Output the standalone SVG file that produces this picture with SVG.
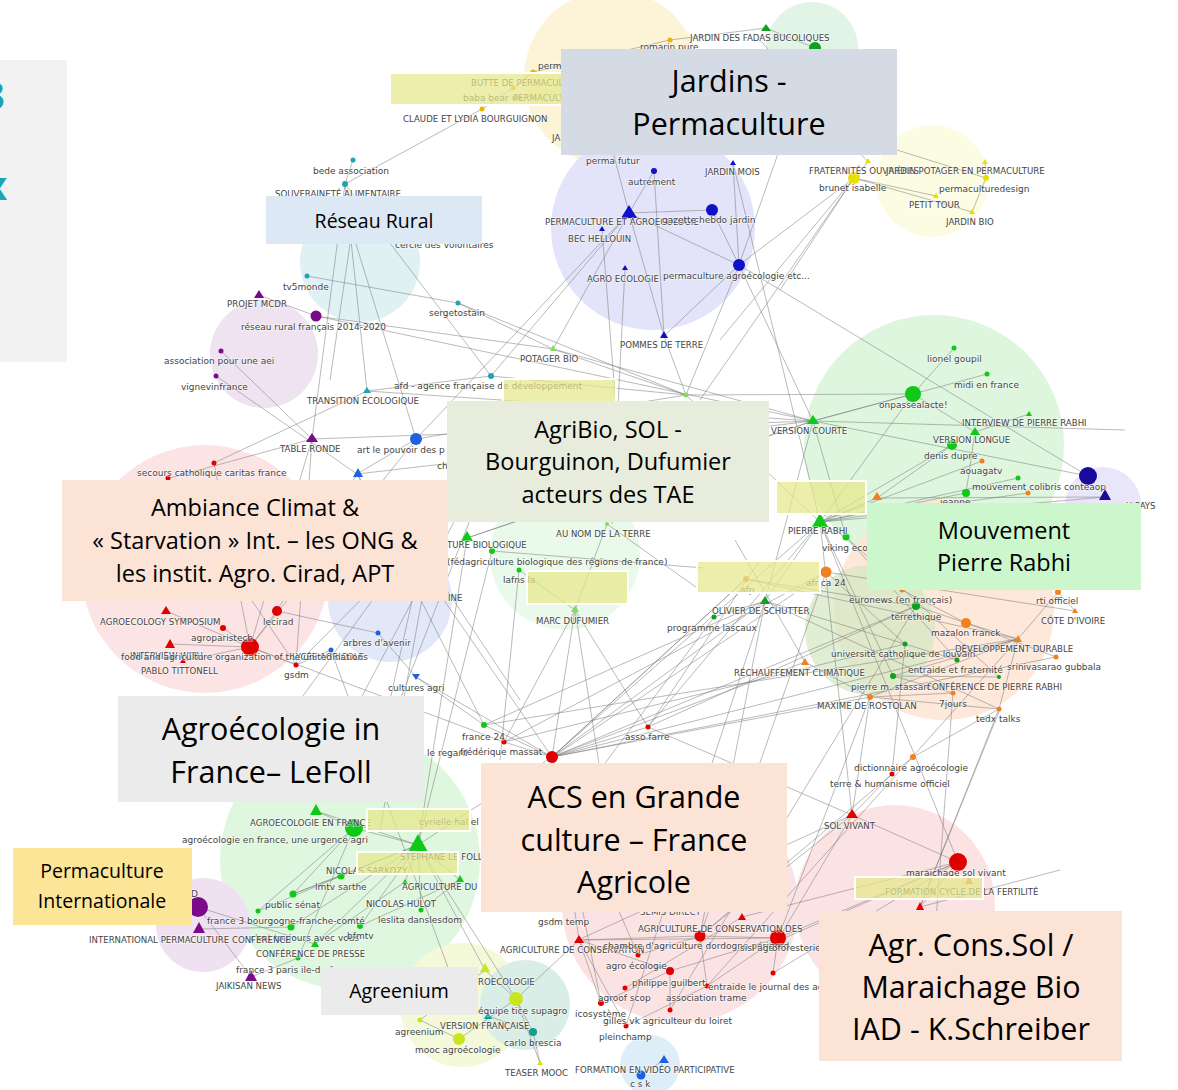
<svg xmlns="http://www.w3.org/2000/svg" width="1178" height="1090" viewBox="0 0 1178 1090">
<style>
.l{font-family:"DejaVu Sans",sans-serif;font-size:9px;fill:#444;paint-order:stroke;stroke:#fff;stroke-opacity:.55;stroke-width:1.5px}
.u{font-size:8.6px}
.e{fill:none;stroke:#7a7a7a;stroke-width:.8;stroke-opacity:.65}
.hl{fill:#e6e88a;fill-opacity:.72;stroke:#fff;stroke-width:2}
.bx{font-family:"Open Sans","Liberation Sans",sans-serif;fill:#000;text-anchor:middle}
.b32{font-size:30.5px}.b24{font-size:23.5px}.b20{font-size:19.5px}
.te{fill:#20a4b4}.pu{fill:#7a0a8a}.bl{fill:#1010c8}.db{fill:#1a0a9e}.or{fill:#f08020}.oy{fill:#f0b400}.ye{fill:#e6e000}.gr{fill:#10c818}.dg{fill:#10a020}.re{fill:#e00000}.lb{fill:#2060e0}.yg{fill:#c8e620}.tg{fill:#10a090}.lg{fill:#7ee05a}
</style>
<rect width="1178" height="1090" fill="#fff"/>
<g id="panel-left">
<rect x="0" y="60" width="67" height="302" fill="#f2f2f2"/>
<text x="-18" y="110" font-family="Open Sans,sans-serif" font-size="40" font-weight="bold" fill="#1fa3b0">3</text>
<text x="-16" y="200" font-family="Open Sans,sans-serif" font-size="40" font-weight="bold" fill="#1fa3b0">x</text>
</g>
<g id="clusters">
<circle cx="612" cy="78" r="88" fill="#fdf3d6"/>
<circle cx="812" cy="48" r="46" fill="#e2f4e6"/>
<circle cx="653" cy="228" r="102" fill="#e3e3fa"/>
<circle cx="932" cy="181" r="56" fill="#fcfce2"/>
<circle cx="360" cy="262" r="60" fill="#e0f1f4"/>
<circle cx="264" cy="354" r="54" fill="#efe3f1"/>
<circle cx="934" cy="445" r="130" fill="#ddf6dd"/>
<circle cx="1103" cy="505" r="38" fill="#e8e6f8"/>
<circle cx="205" cy="569" r="124" fill="#fce4e4"/>
<circle cx="390" cy="600" r="62" fill="#e2e8f8"/>
<circle cx="565" cy="555" r="75" fill="#eafaea"/>
<circle cx="944" cy="610" r="110" fill="#fde6d6" fill-opacity=".9"/>
<circle cx="870" cy="630" r="65" fill="#d6e8c4" fill-opacity=".75"/>
<circle cx="350" cy="860" r="130" fill="#dff7df"/>
<circle cx="203" cy="925" r="47" fill="#efe1f1"/>
<circle cx="680" cy="905" r="118" fill="#fbe3e3"/>
<circle cx="895" cy="905" r="100" fill="#fbe3e3"/>
<circle cx="462" cy="1005" r="62" fill="#f3f9d9"/>
<circle cx="525" cy="1005" r="45" fill="#d9eee6"/>
<circle cx="650" cy="1065" r="30" fill="#deeef8"/>
</g>
<g id="connectors">
<path class="e" d="M353 160L345 184M345 184L482 109M482 109L513 88M513 88L533 72M533 72L670 40M670 40L766 28M766 28L815 48M815 48L739 265M345 184L312 439M345 184L367 391M350 244L330 380M356 244L416 439M345 184L491 376M307 276L458 303M458 303L686 395M458 303L553 349M316 316L259 295M316 316L553 349M316 316L813 421M221 351L312 439M216 376L357 474M312 439L813 421M312 439L170 478M312 439L250 647M312 439L296 665M367 391L491 376M367 391L813 421M367 391L214 463M491 376L629 213M491 376L686 395M416 439L629 213M416 439L686 395M416 439L357 474M357 474L813 421M357 474L552 757M357 474L484 725"/>
<path class="e" d="M629 213L712 210M629 213L654 171M629 213L613 152M629 213L553 349M629 213L739 265M629 213L664 336M654 171L664 336M712 210L739 265M733 163L739 265M733 163L820 522M739 265L854 178M739 265L813 421M739 265L664 336M739 265L686 395M739 265L1088 476M854 178L936 196M854 178L972 212M854 178L868 162M986 178L972 212M985 162L986 178M854 178L780 290M854 178L720 340M854 178L700 400M868 162L760 40M897 150L986 178M664 336L686 395M602 229L615 395M625 268L612 524M686 395L913 394M686 395L820 522M553 349L686 395M553 349L813 421"/>
<path class="e" d="M913 394L813 421M913 394L954 348M913 394L975 432M913 394L820 522M813 421L987 374M813 421L1088 476M813 421L846 537M813 421L765 601M813 421L467 538M813 421L1125 430M975 432L1029 414M975 432L966 493M952 445L820 522M952 445L877 498M982 461L820 522M820 522L966 493M820 522L1018 478M820 522L1028 493M820 522L877 498M820 522L846 537M820 522L765 601M820 522L893 676M820 522L852 815M820 522L958 862M820 522L552 757M820 522L648 727M820 522L1105 497M877 498L1105 497M846 537L957 660M846 537L999 677M826 572L553 757M826 572L905 644M826 572L1075 611M746 579L552 757M746 579L916 606M746 579L1018 639M765 601L714 617M765 601L905 644M765 601L999 709"/>
<path class="e" d="M552 757L484 725M552 757L648 727M552 757L765 601M552 757L916 606M552 757L1018 639M552 757L418 845M552 757L579 940M552 757L504 742M552 757L575 610M552 757L870 697M552 757L1056 657M805 662L870 697M805 662L552 757M805 662L735 540M902 590L966 623M916 606L966 623M966 623L1056 657M966 623L1018 639M1018 639L1058 592M1018 639L999 709M1058 592L1075 611M893 676L953 693M893 676L999 677M870 697L953 693M870 697L999 709M870 697L1018 639M957 660L905 644M999 709L913 757M913 757L892 774M892 774L852 815M892 774L700 936M999 709L920 907M953 693L930 1000M905 644L892 774M870 697L852 815M1018 639L893 676"/>
<path class="e" d="M250 647L277 611M250 647L223 628M250 647L170 644M250 647L296 665M250 647L166 611M250 647L416 439M250 647L504 742M250 647L183 661M277 611L357 474M277 611L378 633M214 463L250 647M168 478L296 665M296 665L331 650M296 665L440 520M378 633L416 677M416 677L484 725M331 650L460 1000M416 677L552 757M440 500L380 830M467 538L813 421M467 538L418 845M492 551L418 845M492 551L704 568M519 570L575 610M519 570L500 760M607 524L575 610M607 524L700 590M575 610L504 742M575 610L648 727M575 610L600 770M648 727L852 815M648 727L760 560M484 725L1018 639M504 742L826 572M430 520L390 700M455 520L360 700M470 520L400 700M445 500L300 700M400 520L520 700M484 725L765 601M504 742L905 644M552 757L746 579M700 936L765 601M648 727L916 606M600 770L714 617"/>
<path class="e" d="M418 845L354 828M418 845L460 880M418 845L341 876M418 845L293 894M418 845L291 927M418 845L360 926M418 845L315 944M418 845L405 882M418 845L421 910M418 845L516 999M418 845L485 970M418 845L316 811M354 828L316 811M354 828L293 894M354 828L258 911M354 828L298 958M341 876L293 894M341 876L258 911M460 880L421 910M460 880L360 926M405 882L315 944M198 907L251 977M198 907L315 944M199 929L291 927M251 977L298 958M485 970L516 999M485 970L420 1020M516 999L459 1039M516 999L533 1032M516 999L540 1063M488 1016L533 1032M533 1032L540 1063M516 999L579 940M459 1039L420 1020M664 1060L641 1075"/>
<path class="e" d="M579 940L700 936M579 940L778 938M579 940L670 971M579 940L601 1003M579 940L626 1026M700 936L778 938M700 936L638 955M700 936L707 986M778 938L958 862M778 938L670 971M778 938L707 986M778 938L870 697M778 938L773 973M742 917L625 988M742 917L958 862M670 971L601 1003M670 971L670 1010M707 986L626 1026M958 862L852 815M958 862L920 907M958 862L969 881M958 862L780 940M852 815L700 936M852 815L779 938M852 815L578 940M920 907L1060 870M920 907L1000 709M773 973L958 862M638 955L552 757M670 1010L916 606M626 1026L765 601M601 1003L552 757M707 986L1018 639M700 936L826 572"/>
</g>
<g id="nodes">
<circle cx="670" cy="40" r="2.5" class="oy"/><polygon points="766,24 771,31 761,31" class="dg"/><circle cx="815" cy="48" r="6" class="dg"/>
<circle cx="533" cy="72" r="2.5" class="oy"/><circle cx="513" cy="88" r="2.5" class="oy"/><circle cx="482" cy="109" r="2.5" class="oy"/>
<circle cx="353" cy="160" r="2.5" class="te"/><circle cx="345" cy="184" r="3" class="te"/><circle cx="307" cy="276" r="2.5" class="te"/><circle cx="458" cy="303" r="2.5" class="te"/><polygon points="367,387 371,393 363,393" class="te"/><circle cx="491" cy="376" r="3" class="te"/>
<polygon points="259,290 264,298 254,298" class="pu"/><circle cx="316" cy="316" r="5.5" class="pu"/><circle cx="221" cy="351" r="2.5" class="pu"/><circle cx="216" cy="376" r="2.5" class="pu"/><polygon points="312,433 318,442 306,442" class="pu"/>
<polygon points="358,468 363,477 353,477" class="lb"/><circle cx="416" cy="439" r="6" class="lb"/><circle cx="378" cy="633" r="2.5" class="lb"/><circle cx="331" cy="650" r="2.5" class="lb"/><polygon points="412,674 420,674 416,680" class="lb"/>
<circle cx="613" cy="152" r="2" class="bl"/><circle cx="654" cy="171" r="3" class="bl"/><polygon points="733,160 736,165 730,165" class="bl"/><polygon points="629,205 637,218 621,218" class="bl"/><circle cx="712" cy="210" r="6" class="bl"/><polygon points="602,226 605,231 599,231" class="bl"/><circle cx="739" cy="265" r="6" class="bl"/><polygon points="625,265 628,270 622,270" class="bl"/><polygon points="664,331 668,338 660,338" class="bl"/>
<polygon points="868,158 871,163 865,163" class="ye"/><circle cx="854" cy="178" r="6" class="ye"/><polygon points="985,159 988,164 982,164" class="ye"/><circle cx="986" cy="178" r="3" class="ye"/><polygon points="936,193 939,198 933,198" class="ye"/><polygon points="972,209 975,214 969,214" class="ye"/>
<circle cx="954" cy="348" r="2.5" class="gr"/><circle cx="987" cy="374" r="2.5" class="gr"/><circle cx="913" cy="394" r="8" class="gr"/><polygon points="813,415 819,424 807,424" class="gr"/><polygon points="1029,411 1032,416 1026,416" class="gr"/><polygon points="975,427 980,435 970,435" class="gr"/><circle cx="952" cy="445" r="5" class="gr"/><circle cx="982" cy="461" r="2.5" class="or"/><circle cx="1018" cy="478" r="2.5" class="gr"/><circle cx="966" cy="493" r="4" class="gr"/><circle cx="1028" cy="493" r="2.5" class="or"/><circle cx="1088" cy="476" r="9" class="db"/><polygon points="1105,489 1111,500 1099,500" class="db"/><polygon points="877,492 882,500 872,500" class="or"/>
<polygon points="820,513 828,527 812,527" class="gr"/><circle cx="846" cy="537" r="3.5" class="gr"/><circle cx="826" cy="572" r="5.5" class="or"/><circle cx="746" cy="579" r="3" class="or"/><polygon points="765,596 770,604 760,604" class="dg"/><circle cx="714" cy="617" r="2.5" class="dg"/><polygon points="805,658 809,665 801,665" class="or"/>
<circle cx="902" cy="590" r="2.5" class="or"/><circle cx="916" cy="606" r="4" class="dg"/><circle cx="966" cy="623" r="5" class="or"/><circle cx="905" cy="644" r="2.5" class="dg"/><polygon points="1018,635 1022,642 1014,642" class="or"/><circle cx="1056" cy="657" r="2.5" class="or"/><circle cx="957" cy="660" r="2.5" class="dg"/><circle cx="999" cy="677" r="2" class="dg"/><circle cx="893" cy="676" r="3" class="dg"/><circle cx="953" cy="693" r="2.5" class="or"/><circle cx="870" cy="697" r="3" class="or"/><circle cx="999" cy="709" r="2.5" class="or"/><circle cx="1058" cy="592" r="3" class="or"/><polygon points="1075,608 1078,613 1072,613" class="or"/>
<circle cx="913" cy="757" r="3" class="or"/><circle cx="892" cy="774" r="2.5" class="re"/><polygon points="852,809 858,818 846,818" class="re"/>
<polygon points="553,345 556,351 550,351" class="lg"/><circle cx="686" cy="395" r="2.5" class="lg"/><circle cx="607" cy="524" r="2" class="lg"/><polygon points="467,531 473,541 461,541" class="gr"/><circle cx="492" cy="551" r="3" class="gr"/><circle cx="519" cy="570" r="2.5" class="gr"/><polygon points="575,605 579,612 571,612" class="lg"/>
<circle cx="484" cy="725" r="3" class="gr"/><circle cx="504" cy="742" r="2.5" class="re"/><circle cx="552" cy="757" r="6" class="re"/><circle cx="648" cy="727" r="2.5" class="re"/>
<circle cx="214" cy="463" r="2.5" class="re"/><circle cx="168" cy="478" r="2.5" class="re"/><polygon points="166,606 171,614 161,614" class="re"/><circle cx="277" cy="611" r="5" class="re"/><circle cx="223" cy="628" r="3" class="re"/><polygon points="170,639 175,648 165,648" class="re"/><circle cx="250" cy="647" r="9" class="re"/><polygon points="183,658 186,663 180,663" class="re"/><circle cx="296" cy="665" r="2.5" class="re"/>
<polygon points="316,804 322,815 310,815" class="gr"/><circle cx="354" cy="828" r="9" class="gr"/><polygon points="418,834 428,852 408,852" class="gr"/><circle cx="341" cy="876" r="3.5" class="gr"/><polygon points="460,875 464,882 456,882" class="gr"/><circle cx="293" cy="894" r="3.5" class="gr"/><circle cx="258" cy="911" r="2.5" class="gr"/><circle cx="291" cy="927" r="3.5" class="gr"/><polygon points="405,879 408,884 402,884" class="gr"/><circle cx="421" cy="910" r="2.5" class="gr"/><circle cx="360" cy="926" r="3" class="gr"/><polygon points="315,940 319,947 311,947" class="gr"/><circle cx="298" cy="958" r="2.5" class="gr"/>
<circle cx="198" cy="907" r="10" class="pu"/><polygon points="199,922 205,933 193,933" class="pu"/><polygon points="251,970 257,981 245,981" class="pu"/>
<polygon points="485,963 490,972 480,972" class="yg"/><circle cx="516" cy="999" r="7" class="yg"/><polygon points="488,1012 492,1019 484,1019" class="tg"/><circle cx="533" cy="1032" r="4" class="tg"/><circle cx="420" cy="1020" r="2.5" class="yg"/><circle cx="459" cy="1039" r="6" class="yg"/><polygon points="540,1060 543,1065 537,1065" class="yg"/><polygon points="664,1055 669,1063 659,1063" class="lb"/><circle cx="641" cy="1075" r="4.5" class="lb"/>
<polygon points="579,935 584,943 574,943" class="re"/><circle cx="700" cy="936" r="5.5" class="re"/><polygon points="742,913 746,920 738,920" class="re"/><circle cx="778" cy="938" r="8" class="re"/><circle cx="638" cy="955" r="2.5" class="re"/><circle cx="670" cy="971" r="4" class="re"/><circle cx="625" cy="988" r="2.5" class="re"/><circle cx="707" cy="986" r="2.5" class="re"/><circle cx="601" cy="1003" r="3" class="re"/><circle cx="670" cy="1010" r="2.5" class="re"/><circle cx="626" cy="1026" r="2.5" class="re"/><circle cx="773" cy="973" r="2.5" class="re"/>
<circle cx="958" cy="862" r="9" class="re"/><polygon points="969,876 973,884 965,884" class="or"/><polygon points="920,902 924,910 916,910" class="re"/>
</g>
<g id="labels">
<text class="l" x="640" y="50">romarin pure</text><text class="l u" x="690" y="41">JARDIN DES FADAS BUCOLIQUES</text>
<text class="l" x="538" y="69">perm</text><text class="l u" x="471" y="86">BUTTE DE PERMACULTURE</text><text class="l" x="463" y="101">baba bear de</text><text class="l u" x="513" y="101">PERMACULTURE</text><text class="l u" x="403" y="122">CLAUDE ET LYDIA BOURGUIGNON</text><text class="l u" x="552" y="141">JA</text>
<text class="l" x="313" y="174">bede association</text><text class="l u" x="275" y="197">SOUVERAINETÉ ALIMENTAIRE</text><text class="l" x="395" y="248">cercle des volontaires</text><text class="l" x="283" y="290">tv5monde</text><text class="l" x="429" y="316">sergetostain</text><text class="l u" x="307" y="404">TRANSITION ÉCOLOGIQUE</text><text class="l" x="394" y="389">afd - agence française de développement</text>
<text class="l u" x="227" y="307">PROJET MCDR</text><text class="l" x="241" y="330">réseau rural français 2014-2020</text><text class="l" x="164" y="364">association pour une aei</text><text class="l" x="181" y="390">vignevinfrance</text><text class="l u" x="280" y="452">TABLE RONDE</text><text class="l" x="357" y="453">art le pouvoir des p</text><text class="l" x="437" y="469">ch</text>
<text class="l" x="586" y="164">perma futur</text><text class="l" x="628" y="185">autrement</text><text class="l u" x="705" y="175">JARDIN MOIS</text><text class="l u" x="545" y="225">PERMACULTURE ET AGROECOLOGIE</text><text class="l" x="662" y="223">gazette hebdo jardin</text><text class="l u" x="568" y="242">BEC HELLOUIN</text><text class="l u" x="587" y="282">AGRO ECOLOGIE</text><text class="l" x="663" y="279">permaculture agroécologie etc...</text><text class="l u" x="620" y="348">POMMES DE TERRE</text>
<text class="l u" x="809" y="174">FRATERNITÉS OUVRIÈRES</text><text class="l u" x="886" y="174">JARDIN POTAGER EN PERMACULTURE</text><text class="l" x="819" y="191">brunet isabelle</text><text class="l" x="939" y="192">permaculturedesign</text><text class="l u" x="909" y="208">PETIT TOUR</text><text class="l u" x="946" y="225">JARDIN BIO</text>
<text class="l" x="927" y="362">lionel goupil</text><text class="l" x="954" y="388">midi en france</text><text class="l" x="879" y="408">onpassealacte!</text><text class="l u" x="771" y="434">VERSION COURTE</text><text class="l u" x="962" y="426">INTERVIEW DE PIERRE RABHI</text><text class="l u" x="933" y="443">VERSION LONGUE</text><text class="l" x="924" y="459">denis dupre</text><text class="l" x="960" y="474">aouagatv</text><text class="l" x="972" y="490">mouvement colibris</text><text class="l" x="1064" y="490">conteaop</text><text class="l" x="940" y="505">jeanne</text><text class="l u" x="1126" y="509">U PAYS</text>
<text class="l u" x="788" y="534">PIERRE RABHI</text><text class="l" x="822" y="551">viking eco</text><text class="l" x="806" y="586">africa 24</text><text class="l" x="740" y="593">afp</text><text class="l u" x="712" y="614">OLIVIER DE SCHUTTER</text><text class="l" x="667" y="631">programme lascaux</text><text class="l u" x="734" y="676">RÉCHAUFFEMENT CLIMATIQUE</text>
<text class="l" x="849" y="603">euronews (en français)</text><text class="l" x="891" y="620">terrethique</text><text class="l" x="931" y="636">mazalon franck</text><text class="l" x="831" y="657">université catholique de louvain</text><text class="l u" x="955" y="652">DÉVELOPPEMENT DURABLE</text><text class="l" x="1007" y="670">srinivasarao gubbala</text><text class="l" x="908" y="673">entraide et fraternité</text><text class="l u" x="926" y="690">CONFÉRENCE DE PIERRE RABHI</text><text class="l" x="851" y="690">pierre m. stassart</text><text class="l" x="939" y="707">7jours</text><text class="l u" x="817" y="709">MAXIME DE ROSTOLAN</text><text class="l" x="976" y="722">tedx talks</text><text class="l" x="1036" y="604">rti officiel</text><text class="l u" x="1041" y="624">CÔTE D'IVOIRE</text>
<text class="l" x="854" y="771">dictionnaire agroécologie</text><text class="l" x="830" y="787">terre &amp; humanisme officiel</text><text class="l u" x="824" y="829">SOL VIVANT</text>
<text class="l u" x="520" y="362">POTAGER BIO</text><text class="l u" x="556" y="537">AU NOM DE LA TERRE</text><text class="l u" x="447" y="548">TURE BIOLOGIQUE</text><text class="l" x="447" y="565">(fédagriculture biologique des régions de france)</text><text class="l" x="503" y="583">lafns la</text><text class="l u" x="536" y="624">MARC DUFUMIER</text><text class="l u" x="448" y="601">INE</text><text class="l" x="343" y="646">arbres d'avenir</text><text class="l u" x="292" y="660">LYCÉE AGRICOLE</text><text class="l" x="388" y="691">cultures agri</text>
<text class="l" x="462" y="740">france 24</text><text class="l" x="427" y="756">le regard</text><text class="l" x="460" y="755">frédérique massat</text><text class="l" x="625" y="740">asso farre</text>
<text class="l" x="137" y="476">secours catholique caritas france</text><text class="l u" x="100" y="625">AGROECOLOGY SYMPOSIUM</text><text class="l" x="263" y="625">lecirad</text><text class="l" x="191" y="641">agroparistech</text><text class="l u" x="130" y="659">INTERVIEW WITH</text><text class="l" x="121" y="660">food and agriculture organization of the united nations</text><text class="l u" x="141" y="674">PABLO TITTONELL</text><text class="l" x="284" y="678">gsdm</text>
<text class="l u" x="250" y="826">AGROECOLOGIE EN FRANCE</text><text class="l" x="182" y="843">agroécologie en france, une urgence agri</text><text class="l" x="419" y="825">cyrielle hallel</text><text class="l u" x="400" y="860">STÉPHANE LE FOLL</text><text class="l u" x="326" y="874">NICOLAS SARKOZY</text><text class="l u" x="402" y="890">AGRICULTURE DU</text><text class="l" x="315" y="890">lmtv sarthe</text><text class="l" x="265" y="908">public sénat</text><text class="l" x="207" y="924">france 3 bourgogne-franche-comté</text><text class="l u" x="366" y="907">NICOLAS HULOT</text><text class="l" x="378" y="923">leslita danslesdom</text><text class="l" x="250" y="941">c'est toujours avec vous</text><text class="l" x="347" y="939">bfmtv</text><text class="l u" x="256" y="957">CONFÉRENCE DE PRESSE</text><text class="l" x="236" y="973">france 3 paris ile-de-france</text>
<text class="l u" x="89" y="943">INTERNATIONAL PERMACULTURE CONFERENCE</text><text class="l u" x="216" y="989">JAIKISAN NEWS</text>
<text class="l u" x="478" y="985">ROECOLOGIE</text><text class="l" x="478" y="1014">équipe tice supagro</text><text class="l u" x="440" y="1029">VERSION FRANÇAISE</text><text class="l" x="504" y="1046">carlo brescia</text><text class="l" x="395" y="1035">agreenium</text><text class="l" x="415" y="1053">mooc agroécologie</text><text class="l u" x="505" y="1076">TEASER MOOC</text><text class="l u" x="575" y="1073">FORMATION EN VIDÉO PARTICIPATIVE</text><text class="l" x="630" y="1087">c s k</text>
<text class="l" x="538" y="925">gsdm temp</text><text class="l u" x="640" y="915">SEMIS DIRECT</text><text class="l u" x="500" y="953">AGRICULTURE DE CONSERVATION</text><text class="l u" x="638" y="932">AGRICULTURE DE CONSERVATION DES</text><text class="l" x="603" y="949">chambre d'agriculture dordogne périgord</text><text class="l" x="740" y="951">sisl agroforesterie</text><text class="l" x="606" y="969">agro écologie</text><text class="l" x="632" y="986">philippe guilbert</text><text class="l" x="708" y="990">entraide le journal des agriculteurs</text><text class="l" x="666" y="1001">association trame</text><text class="l" x="598" y="1001">agroof scop</text><text class="l" x="575" y="1017">icosystème</text><text class="l" x="603" y="1024">gilles vk agriculteur du loiret</text><text class="l" x="599" y="1040">pleinchamp</text>
<text class="l" x="906" y="876">maraichage sol vivant</text><text class="l u" x="885" y="895">FORMATION CYCLE DE LA FERTILITÉ</text>
<text class="l" x="191" y="897">D</text>
</g>
<g id="highlights">
<rect class="hl" x="390" y="73" width="216" height="32"/>
<rect class="hl" x="503" y="379" width="113" height="32"/>
<rect class="hl" x="776" y="481" width="90" height="33"/>
<rect class="hl" x="527" y="571" width="101" height="33"/>
<rect class="hl" x="697" y="561" width="123" height="32"/>
<rect class="hl" x="367" y="809" width="103" height="22"/>
<rect class="hl" x="357" y="852" width="101" height="22"/>
<rect class="hl" x="855" y="877" width="128" height="22"/>
</g>
<g id="box-jardins"><rect x="561" y="49" width="336" height="106" fill="#d5dbe5"/><text class="bx b32" x="729" y="92">Jardins -</text><text class="bx b32" x="729" y="135">Permaculture</text></g>
<g id="box-reseau"><rect x="266" y="196" width="216" height="48" fill="#dce8f3"/><text class="bx b20" x="374" y="228">Réseau Rural</text></g>
<g id="box-agribio"><rect x="447" y="401" width="322" height="121" fill="#e8ecdd"/><text class="bx b24" x="608" y="438">AgriBio, SOL -</text><text class="bx b24" x="608" y="470">Bourguinon, Dufumier</text><text class="bx b24" x="608" y="503">acteurs des TAE</text></g>
<g id="box-ambiance"><rect x="62" y="480" width="386" height="121" fill="#fbe3d6"/><text class="bx b24" x="255" y="516">Ambiance Climat &amp;</text><text class="bx b24" x="255" y="549">« Starvation » Int. – les ONG &amp;</text><text class="bx b24" x="255" y="582">les instit. Agro. Cirad, APT</text></g>
<g id="box-rabhi"><rect x="867" y="503" width="274" height="87" fill="#ccf6cc"/><text class="bx b24" x="1004" y="539">Mouvement</text><text class="bx b24" x="1004" y="571">Pierre Rabhi</text></g>
<g id="box-lefoll"><rect x="118" y="696" width="306" height="106" fill="#ebebeb"/><text class="bx b32" x="271" y="740">Agroécologie in</text><text class="bx b32" x="271" y="783">France– LeFoll</text></g>
<g id="box-acs"><rect x="481" y="763" width="306" height="149" fill="#fbe3d6"/><text class="bx b32" x="634" y="808">ACS en Grande</text><text class="bx b32" x="634" y="851">culture – France</text><text class="bx b32" x="634" y="893">Agricole</text></g>
<g id="box-permaint"><rect x="13" y="848" width="179" height="77" fill="#fde598"/><text class="bx b20" x="102" y="878">Permaculture</text><text class="bx b20" x="102" y="908">Internationale</text></g>
<g id="box-agreenium"><rect x="321" y="967" width="157" height="48" fill="#ebebeb"/><text class="bx b20" x="399" y="998">Agreenium</text></g>
<g id="box-schreiber"><rect x="819" y="911" width="303" height="150" fill="#fbe3d6"/><text class="bx b32" x="971" y="956">Agr. Cons.Sol /</text><text class="bx b32" x="971" y="998">Maraichage Bio</text><text class="bx b32" x="971" y="1040">IAD - K.Schreiber</text></g>
</svg>
